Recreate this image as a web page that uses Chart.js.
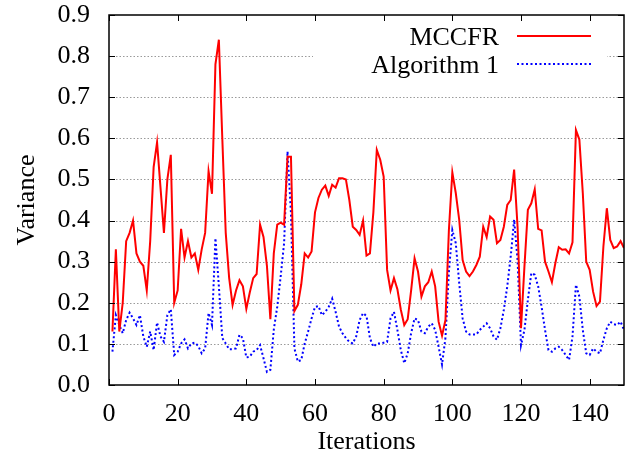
<!DOCTYPE html>
<html>
<head>
<meta charset="utf-8">
<script src="https://cdn.jsdelivr.net/npm/chart.js@4/dist/chart.umd.min.js"></script>
<style>
  html, body { margin: 0; padding: 0; background: #ffffff; }
  #wrap { width: 634px; height: 455px; }
</style>
</head>
<body>
<div id="wrap"><canvas id="c" width="634" height="455"></canvas></div>
<script>
// ---- data ----
const seriesNames = ["MCCFR", "Algorithm 1"];
const xTickValues = [0, 20, 40, 60, 80, 100, 120, 140];
const yTickValues = [0.0, 0.1, 0.2, 0.3, 0.4, 0.5, 0.6, 0.7, 0.8, 0.9];
const iterations = Array.from({ length: 150 }, (_, i) => i + 1);

const mccfr = [
  0.13, 0.33, 0.13, 0.20, 0.35, 0.37, 0.40, 0.32, 0.30, 0.29,
  0.23, 0.35, 0.53, 0.59, 0.48, 0.37, 0.50, 0.56, 0.20, 0.23,
  0.38, 0.31, 0.35, 0.31, 0.32, 0.28, 0.33, 0.37, 0.52, 0.465,
  0.78, 0.84, 0.60, 0.37, 0.26, 0.195, 0.23, 0.255, 0.24, 0.185,
  0.225, 0.26, 0.27, 0.39, 0.36, 0.29, 0.16, 0.32, 0.39, 0.395,
  0.39, 0.555, 0.555, 0.18, 0.195, 0.245, 0.32, 0.31, 0.325, 0.42,
  0.455, 0.475, 0.485, 0.46, 0.487, 0.48, 0.503, 0.503, 0.50, 0.45,
  0.385, 0.377, 0.365, 0.40, 0.315, 0.32, 0.42, 0.572, 0.548, 0.507,
  0.28, 0.23, 0.26, 0.233, 0.183, 0.146, 0.16, 0.23, 0.308, 0.276,
  0.215, 0.24, 0.25, 0.276, 0.24, 0.154, 0.12, 0.158, 0.377, 0.517,
  0.467, 0.402, 0.304, 0.276, 0.265, 0.276, 0.292, 0.312, 0.385, 0.36,
  0.41, 0.402, 0.345, 0.353, 0.385, 0.438, 0.45, 0.524, 0.385, 0.138,
  0.288, 0.426, 0.442, 0.476, 0.38, 0.376, 0.30, 0.276, 0.25, 0.296,
  0.335, 0.329, 0.33, 0.32, 0.347, 0.62, 0.597, 0.467, 0.30, 0.28,
  0.227, 0.192, 0.203, 0.337, 0.43, 0.353, 0.333, 0.337, 0.35, 0.333
];

const algorithm1 = [
  0.081, 0.17, 0.146, 0.126, 0.158, 0.176, 0.162, 0.146, 0.17, 0.118,
  0.093, 0.13, 0.085, 0.152, 0.118, 0.105, 0.17, 0.184, 0.073, 0.081,
  0.101, 0.111, 0.089, 0.101, 0.103, 0.095, 0.077, 0.089, 0.175, 0.146,
  0.357, 0.24, 0.114, 0.101, 0.087, 0.087, 0.089, 0.122, 0.114, 0.067,
  0.069, 0.081, 0.085, 0.097, 0.065, 0.032, 0.037, 0.135, 0.19, 0.264,
  0.345, 0.568, 0.418, 0.089, 0.057, 0.061, 0.101, 0.13, 0.162, 0.19,
  0.192, 0.17, 0.178, 0.19, 0.21, 0.178, 0.142, 0.126, 0.114, 0.105,
  0.101, 0.118, 0.158, 0.175, 0.168, 0.114, 0.093, 0.101, 0.101, 0.103,
  0.105, 0.162, 0.178, 0.134, 0.085, 0.053, 0.077, 0.126, 0.162, 0.158,
  0.13, 0.126, 0.142, 0.15, 0.134, 0.093, 0.05, 0.115, 0.275, 0.377,
  0.345, 0.248, 0.162, 0.13, 0.123, 0.123, 0.123, 0.134, 0.142, 0.15,
  0.138, 0.118, 0.11, 0.138, 0.183, 0.24, 0.312, 0.402, 0.304, 0.097,
  0.134, 0.207, 0.272, 0.268, 0.24, 0.19, 0.134, 0.085, 0.081, 0.089,
  0.093, 0.085, 0.073, 0.061, 0.118, 0.244, 0.215, 0.134, 0.077, 0.073,
  0.089, 0.081, 0.077, 0.11, 0.138, 0.154, 0.148, 0.146, 0.154, 0.134
];

// ---- styles ----
const FONT = "'Liberation Serif', 'DejaVu Serif', serif";
const RED = '#ff0000';
const BLUE = '#0000ff';
const BLUE_DASH = [2, 2.5];

function toPoints(ys) { return iterations.map((x, i) => ({ x: x, y: ys[i] })); }

const framePlugin = {
  id: 'gnuplotFrame',
  beforeDatasetsDraw(chart) {
    const { ctx, chartArea: a, scales: { x, y } } = chart;
    ctx.save();
    ctx.strokeStyle = '#9a9a9a';
    ctx.lineWidth = 1;
    ctx.setLineDash([1.5, 2]);
    yTickValues.forEach(v => {
      if (v <= 0 || v >= 0.9) return;
      const py = Math.round(y.getPixelForValue(v)) + 0.5;
      ctx.beginPath(); ctx.moveTo(a.left, py); ctx.lineTo(a.right, py); ctx.stroke();
    });
    ctx.setLineDash([]);
    ctx.fillStyle = '#ffffff';
    ctx.fillRect(313, 22, 294, 56);
    ctx.restore();
  },
  afterDatasetsDraw(chart) {
    const { ctx, chartArea: a, scales: { x, y } } = chart;
    ctx.save();
    ctx.font = '26px ' + FONT;
    ctx.fillStyle = '#000';
    ctx.textAlign = 'right';
    ctx.textBaseline = 'alphabetic';
    ctx.fillText(seriesNames[0], 499, 44.5);
    ctx.fillText(seriesNames[1], 499, 72.5);
    ctx.lineWidth = 2;
    ctx.strokeStyle = RED;
    ctx.beginPath(); ctx.moveTo(517, 36); ctx.lineTo(591, 36); ctx.stroke();
    ctx.strokeStyle = BLUE;
    ctx.setLineDash(BLUE_DASH);
    ctx.beginPath(); ctx.moveTo(517, 64); ctx.lineTo(591, 64); ctx.stroke();
    ctx.setLineDash([]);
    ctx.strokeStyle = '#000';
    ctx.lineWidth = 1.5;
    ctx.strokeRect(a.left, a.top, a.right - a.left, a.bottom - a.top);
    ctx.lineWidth = 1;
    const tl = 6;
    xTickValues.forEach(v => {
      const px = Math.round(x.getPixelForValue(v)) + 0.5;
      ctx.beginPath();
      ctx.moveTo(px, a.bottom); ctx.lineTo(px, a.bottom - tl);
      ctx.moveTo(px, a.top); ctx.lineTo(px, a.top + tl);
      ctx.stroke();
    });
    yTickValues.forEach(v => {
      const py = Math.round(y.getPixelForValue(v)) + 0.5;
      ctx.beginPath();
      ctx.moveTo(a.left, py); ctx.lineTo(a.left + tl, py);
      ctx.moveTo(a.right, py); ctx.lineTo(a.right - tl, py);
      ctx.stroke();
    });
    ctx.restore();
  }
};

new Chart(document.getElementById('c'), {
  type: 'line',
  data: {
    datasets: [
      { label: seriesNames[0], data: toPoints(mccfr), borderColor: RED, borderWidth: 2, pointRadius: 0, tension: 0, fill: false },
      { label: seriesNames[1], data: toPoints(algorithm1), borderColor: BLUE, borderWidth: 2, borderDash: BLUE_DASH, pointRadius: 0, tension: 0, fill: false }
    ]
  },
  options: {
    responsive: false,
    devicePixelRatio: 1,
    animation: false,
    layout: { padding: { left: 0, right: 10, top: 15, bottom: 0 } },
    plugins: { legend: { display: false }, tooltip: { enabled: false } },
    scales: {
      x: {
        type: 'linear', min: 0, max: 150,
        afterBuildTicks: s => { s.ticks = xTickValues.map(v => ({ value: v })); },
        afterFit: s => { s.height = 70; s.paddingLeft = 0; s.paddingRight = 0; },
        grid: { display: false, drawTicks: false },
        border: { display: false },
        ticks: { font: { family: FONT, size: 26 }, color: '#000', padding: 14, maxRotation: 0, autoSkip: false },
        title: { display: true, text: 'Iterations', font: { family: FONT, size: 26 }, color: '#000', padding: { top: 0, bottom: -3 } }
      },
      y: {
        type: 'linear', min: 0, max: 0.9,
        afterBuildTicks: s => { s.ticks = yTickValues.map(v => ({ value: v })); },
        afterFit: s => { s.width = 109; s.paddingTop = 0; s.paddingBottom = 0; },
        grid: { display: false, drawTicks: false },
        border: { display: false },
        ticks: { font: { family: FONT, size: 26 }, color: '#000', padding: 19, callback: v => Number(v).toFixed(1), autoSkip: false },
        title: { display: true, text: 'Variance', font: { family: FONT, size: 26 }, color: '#000', padding: { top: 12, bottom: 0 } }
      }
    }
  },
  plugins: [framePlugin]
});
</script>
</body>
</html>
